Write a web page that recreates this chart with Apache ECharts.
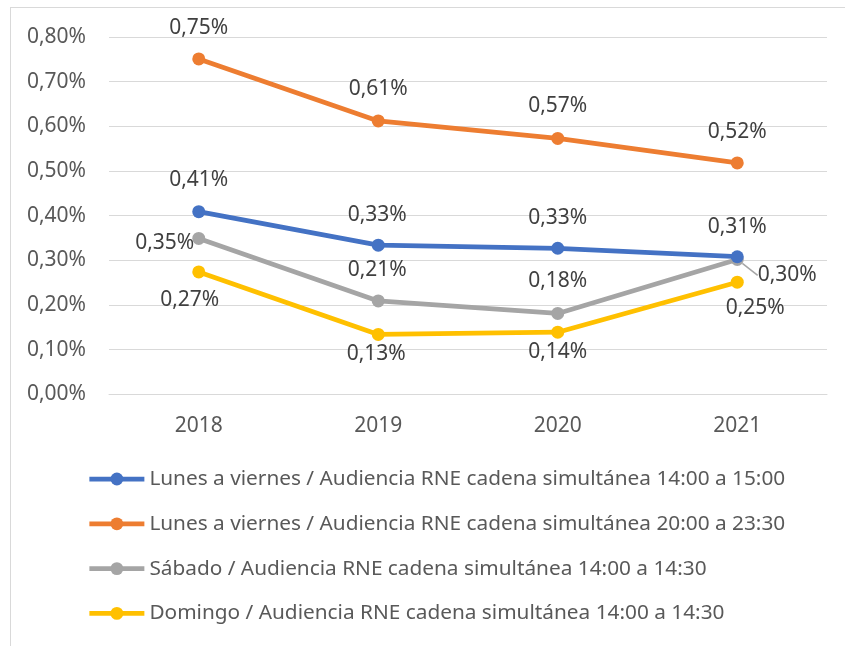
<!DOCTYPE html>
<html>
<head>
<meta charset="utf-8">
<script src="https://cdn.jsdelivr.net/npm/echarts@6/dist/echarts.min.js"></script>
<style>
  html, body { margin: 0; padding: 0; background: #fff; overflow: hidden; }
  #frame { position: absolute; left: 10px; top: 7px; width: 1000px; height: 800px; border: 1px solid #D9D9D9; box-sizing: border-box; }
  #chart { position: absolute; left: 0; top: 0; width: 845px; height: 646px; }
</style>
</head>
<body>
<div id="frame"></div>
<div id="chart"></div>
<script>
// ---- data ----
const categories = ['2018', '2019', '2020', '2021'];
const seriesNames = [
  'Lunes a viernes / Audiencia RNE cadena simultánea 14:00 a 15:00',
  'Lunes a viernes / Audiencia RNE cadena simultánea 20:00 a 23:30',
  'Sábado / Audiencia RNE cadena simultánea 14:00 a 14:30',
  'Domingo / Audiencia RNE cadena simultánea 14:00 a 14:30'
];
const lvTarde = [0.409, 0.334, 0.327, 0.308];
const lvNoche = [0.751, 0.612, 0.573, 0.518];
const sabado = [0.349, 0.209, 0.181, 0.302];
const domingo = [0.274, 0.134, 0.139, 0.251];
const yTicks = { min: 0, max: 0.8, interval: 0.1 };

// ---- styles ----
const colors = ['#4472C4', '#ED7D31', '#A5A5A5', '#FFC000'];
const labelOffsets = [
  [[0, -32], [-1, -30], [0, -30], [0, -30]],
  [[0, -31], [0, -32], [0, -32], [0, -31]],
  [[-34, 5], [-1, -31], [0, -32], [50, 16]],
  [[-9, 28], [-2, 20], [0, 20], [18, 26]]
];
// label with leader line: series 2, point 3
const leaderLabel = { seriesIndex: 2, dataIndex: 3 };
const FONT = 'Noto Sans';
const FS = 21;
const fmt = v => v.toFixed(2).replace('.', ',') + '%';

const allValues = [lvTarde, lvNoche, sabado, domingo];

const series = allValues.map((vals, si) => ({
  name: seriesNames[si],
  type: 'line',
  data: vals.map((v, i) => {
    const item = { value: v };
    if (si === leaderLabel.seriesIndex && i === leaderLabel.dataIndex) {
      item.labelLine = { show: true, lineStyle: { color: '#A5A5A5', width: 1.5 } };
    }
    return item;
  }),
  symbol: 'circle',
  symbolSize: 13,
  lineStyle: { width: 4.75, color: colors[si] },
  itemStyle: { color: colors[si] },
  label: {
    show: true,
    position: 'inside',
    formatter: p => fmt(p.value),
    fontFamily: FONT,
    fontSize: FS,
    color: '#404040'
  },
  labelLayout: p => {
    const o = labelOffsets[p.seriesIndex][p.dataIndex];
    return { dx: o[0], dy: o[1] };
  },
  emphasis: { disabled: true },
  z: 10 - si
}));

const chart = echarts.init(document.getElementById('chart'), null, { renderer: 'canvas' });
chart.setOption({
  animation: false,
  color: colors,
  textStyle: { fontFamily: FONT },
  grid: { left: 109, right: 18, top: 37, bottom: 251.7, outerBoundsMode: 'none' },
  xAxis: {
    type: 'category',
    data: categories,
    boundaryGap: true,
    axisLine: { show: true, lineStyle: { color: '#D9D9D9', width: 1 } },
    axisTick: { show: false },
    axisLabel: { margin: 21, fontSize: FS, color: '#595959', fontFamily: FONT }
  },
  yAxis: {
    type: 'value',
    min: yTicks.min,
    max: yTicks.max,
    interval: yTicks.interval,
    axisLine: { show: false },
    axisTick: { show: false },
    splitLine: { lineStyle: { color: '#D9D9D9', width: 1 } },
    axisLabel: { margin: 23, fontSize: FS, color: '#595959', fontFamily: FONT, formatter: fmt }
  },
  legend: {
    orient: 'vertical',
    left: 87,
    top: 467,
    padding: 0,
    itemWidth: 55,
    itemHeight: 16,
    itemGap: 20.8,
    lineStyle: { width: 4.75 },
    textStyle: { fontSize: 20.8, color: '#595959', fontFamily: FONT, lineHeight: 24 },
    data: seriesNames
  },
  series: series
});
</script>
</body>
</html>
